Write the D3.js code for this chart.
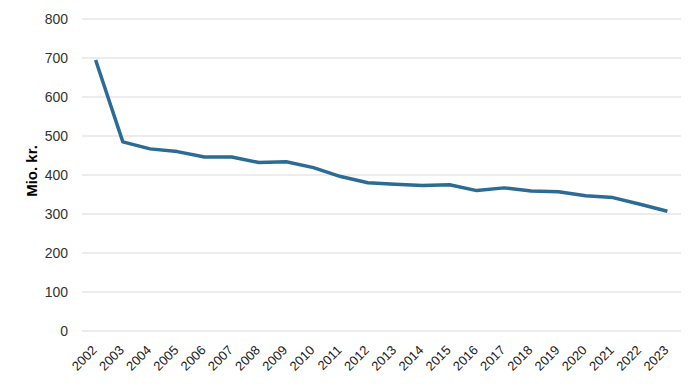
<!DOCTYPE html>
<html>
<head>
<meta charset="utf-8">
<script src="https://cdn.jsdelivr.net/npm/d3@7"></script>
<style>
  body { margin: 0; background: #fff; }
  svg { display: block; font-family: "Liberation Sans", Arial, sans-serif; }
</style>
</head>
<body>
<div id="chart"></div>
<script>
const years = ['2002', '2003', '2004', '2005', '2006', '2007', '2008', '2009', '2010', '2011', '2012',
  '2013', '2014', '2015', '2016', '2017', '2018', '2019', '2020', '2021', '2022', '2023'];
const values = [695, 485, 467, 460, 446, 446, 432, 434, 419, 396, 380,
  376, 373, 375, 360, 367, 359, 357, 347, 342, 325, 307];
const yTicks = [0, 100, 200, 300, 400, 500, 600, 700, 800];

const width = 700;
const height = 387;
const margin = { top: 19, right: 19, bottom: 56, left: 82 };
const innerWidth = width - margin.left - margin.right;
const innerHeight = height - margin.top - margin.bottom;

const svg = d3.select('#chart')
  .append('svg')
  .attr('width', width)
  .attr('height', height);

const g = svg.append('g')
  .attr('transform', `translate(${margin.left},${margin.top})`);

const x = d3.scaleBand()
  .domain(years)
  .range([0, innerWidth]);

const y = d3.scaleLinear()
  .domain([0, 800])
  .range([innerHeight, 0]);

// gridlines
g.append('g')
  .selectAll('line')
  .data(yTicks)
  .enter()
  .append('line')
  .attr('x1', 0)
  .attr('x2', innerWidth)
  .attr('y1', d => y(d))
  .attr('y2', d => y(d))
  .attr('stroke', '#d9d9d9')
  .attr('stroke-width', 1);

// y axis labels
const yAxis = g.append('g')
  .call(d3.axisLeft(y).tickValues(yTicks).tickSize(0).tickPadding(14));
yAxis.select('.domain').remove();
yAxis.selectAll('text')
  .style('font-size', '14px')
  .style('font-family', '"Liberation Sans", Arial, sans-serif')
  .attr('fill', '#333');

// x axis labels, rotated
const xAxis = g.append('g')
  .attr('transform', `translate(0,${innerHeight})`)
  .call(d3.axisBottom(x).tickSize(0).tickPadding(0));
xAxis.select('.domain').remove();
xAxis.selectAll('text')
  .style('font-size', '13px')
  .style('font-family', '"Liberation Sans", Arial, sans-serif')
  .attr('fill', '#222')
  .attr('text-anchor', 'end')
  .attr('y', 0)
  .attr('dy', '0')
  .attr('transform', 'translate(2,20) rotate(-45)');

// y title
svg.append('text')
  .attr('transform', `translate(37,${margin.top + innerHeight / 2 - 4}) rotate(-90)`)
  .attr('text-anchor', 'middle')
  .style('font-size', '15px')
  .style('font-weight', 'bold')
  .attr('fill', '#000')
  .text('Mio. kr.');

// line
const line = d3.line()
  .x((d, i) => x(years[i]) + x.bandwidth() / 2)
  .y(d => y(d));

g.append('path')
  .datum(values)
  .attr('d', line)
  .attr('fill', 'none')
  .attr('stroke', '#2b6b94')
  .attr('stroke-width', 3.5)
  .attr('stroke-linejoin', 'round')
  .attr('stroke-linecap', 'butt');
</script>
</body>
</html>
